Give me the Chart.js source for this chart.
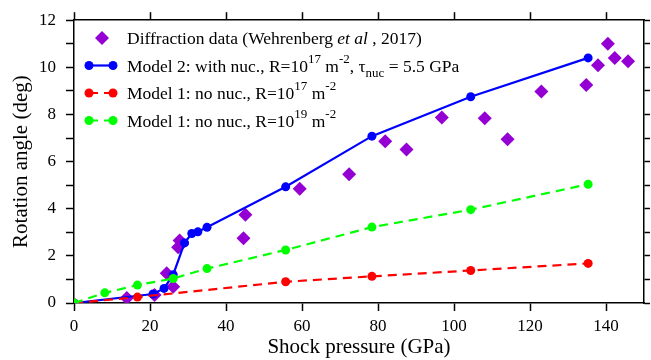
<!DOCTYPE html>
<html>
<head>
<meta charset="utf-8">
<script src="https://cdn.jsdelivr.net/npm/chart.js@4"></script>
<style>
  body { margin: 0; background: #fff; }
</style>
</head>
<body>
<canvas id="rotChart" width="651" height="360"></canvas>
<script>
// diffraction data (Wehrenberg et al, 2017)
const diffPressure = [13.9, 21.2, 24.4, 26.1, 27.4, 27.8, 44.6, 45.1, 59.4, 72.4, 81.9, 87.5, 96.8, 108.1, 114.1, 123.0, 134.8, 137.9, 140.5, 142.3, 145.8];
const diffAngle    = [0.21, 0.34, 1.26, 0.69, 2.37, 2.65, 2.75, 3.75, 4.85, 5.46, 6.86, 6.51, 7.87, 7.84, 6.95, 8.97, 9.25, 10.09, 11.0, 10.4, 10.26];

// model 2, with nucleation
const m2Pressure = [0, 20.8, 23.7, 26.1, 29.1, 31.0, 32.6, 35.0, 55.7, 78.4, 104.4, 135.3];
const m2Angle    = [0, 0.38, 0.62, 1.2, 2.55, 2.95, 3.02, 3.21, 4.93, 7.08, 8.75, 10.4];

// model 1, R=1e17
const m1aPressure = [0, 16.7, 55.7, 78.4, 104.4, 135.3];
const m1aAngle    = [0, 0.25, 0.9, 1.13, 1.38, 1.68];

// model 1, R=1e19
const m1bPressure = [0, 8.1, 16.7, 26.1, 35.0, 55.7, 78.4, 104.4, 135.3];
const m1bAngle    = [0, 0.43, 0.76, 1.04, 1.46, 2.25, 3.22, 3.96, 5.04];

const xTitle = 'Shock pressure (GPa)';
const yTitle = 'Rotation angle (deg)';

const serif = "'Liberation Serif', 'Times New Roman', serif";
const purple = '#9400D3', blue = '#0000FF', red = '#FF0000', green = '#00FF00';

function pts(xs, ys) { return xs.map((x, i) => ({ x: x, y: ys[i] })); }

// legend rows, drawn by hand because of the super/subscripts
const legendRows = [
  { kind: 'diamond', color: purple, segs: [['Diffraction data (Wehrenberg ', 'n'], ['et al', 'i'], [' , 2017)', 'n']] },
  { kind: 'line', color: blue, dash: [], segs: [['Model 2: with nuc., R=10', 'n'], ['17', 'sup'], [' m', 'n'], ['-2', 'sup'], [', \u03C4', 'n'], ['nuc', 'sub'], [' = 5.5 GPa', 'n']] },
  { kind: 'line', color: red, dash: [9, 6], segs: [['Model 1: no nuc., R=10', 'n'], ['17', 'sup'], [' m', 'n'], ['-2', 'sup']] },
  { kind: 'line', color: green, dash: [9, 6], segs: [['Model 1: no nuc., R=10', 'n'], ['19', 'sup'], [' m', 'n'], ['-2', 'sup']] }
];

const legendPlugin = {
  id: 'richLegend',
  afterDraw(chart) {
    const ctx = chart.ctx;
    const size = 17.5;
    ctx.save();
    legendRows.forEach((row, i) => {
      const yc = 38 + i * 27.5;
      if (row.kind === 'diamond') {
        ctx.fillStyle = row.color;
        ctx.beginPath();
        ctx.moveTo(102 - 7, yc); ctx.lineTo(102, yc - 7); ctx.lineTo(102 + 7, yc); ctx.lineTo(102, yc + 7);
        ctx.closePath(); ctx.fill();
      } else {
        ctx.strokeStyle = row.color;
        ctx.lineWidth = 2.2;
        ctx.setLineDash(row.dash);
        ctx.beginPath(); ctx.moveTo(89, yc); ctx.lineTo(113, yc); ctx.stroke();
        ctx.setLineDash([]);
        ctx.fillStyle = row.color;
        [89, 113].forEach(px => { ctx.beginPath(); ctx.arc(px, yc, 4.5, 0, Math.PI * 2); ctx.fill(); });
      }
      let x = 127;
      const base = yc + 6;
      ctx.fillStyle = '#000';
      ctx.textBaseline = 'alphabetic';
      ctx.textAlign = 'left';
      row.segs.forEach(([t, st]) => {
        let f = size + 'px ' + serif, dy = 0;
        if (st === 'i') f = 'italic ' + size + 'px ' + serif;
        if (st === 'sup') { f = Math.round(size * 0.72) + 'px ' + serif; dy = -size * 0.5; }
        if (st === 'sub') { f = Math.round(size * 0.72) + 'px ' + serif; dy = size * 0.3; }
        ctx.font = f;
        ctx.fillText(t, x, base + dy);
        x += ctx.measureText(t).width;
      });
    });
    ctx.restore();
  }
};

const axisBorder = { display: true, color: '#000', width: 1.5 };

new Chart(document.getElementById('rotChart'), {
  type: 'scatter',
  data: {
    datasets: [
      { label: 'Diffraction', data: pts(diffPressure, diffAngle), pointStyle: 'rectRot', pointRadius: 7,
        backgroundColor: purple, borderColor: purple, borderWidth: 0, order: 4 },
      { label: 'Model 2', data: pts(m2Pressure, m2Angle), showLine: true, borderColor: blue, backgroundColor: blue,
        borderWidth: 2.2, pointRadius: 4.5, pointBorderWidth: 0, order: 3 },
      { label: 'Model 1 1e17', data: pts(m1aPressure, m1aAngle), showLine: true, borderColor: red, backgroundColor: red,
        borderWidth: 2.2, borderDash: [9, 6], pointRadius: 4.5, pointBorderWidth: 0, order: 2 },
      { label: 'Model 1 1e19', data: pts(m1bPressure, m1bAngle), showLine: true, borderColor: green, backgroundColor: green,
        borderWidth: 2.2, borderDash: [9, 6], pointRadius: 4.5, pointBorderWidth: 0, order: 1 }
    ]
  },
  options: {
    responsive: false,
    animation: false,
    devicePixelRatio: 1,
    layout: { padding: 0 },
    plugins: { legend: { display: false }, tooltip: { enabled: false } },
    scales: {
      x: {
        type: 'linear', position: 'bottom', min: 0, max: 150,
        border: axisBorder,
        grid: { drawOnChartArea: false, tickLength: 8, color: '#000', tickWidth: 1.5 },
        ticks: { stepSize: 20, includeBounds: false, autoSkip: false, maxRotation: 0, color: '#000', padding: 5,
          font: { family: serif, size: 17 } },
        title: { display: true, text: xTitle, color: '#000', font: { family: serif, size: 21 }, padding: { top: 0, bottom: 0 } },
        afterFit: s => { s.height = 57; }
      },
      xTop: {
        type: 'linear', position: 'top', min: 0, max: 150,
        border: axisBorder,
        grid: { drawOnChartArea: false, tickLength: 8, color: '#000', tickWidth: 1.5 },
        ticks: { stepSize: 20, includeBounds: false, display: false },
        afterFit: s => { s.height = 18; }
      },
      y: {
        type: 'linear', position: 'left', min: 0, max: 12,
        border: axisBorder,
        grid: { drawOnChartArea: false, tickLength: 8, color: '#000', tickWidth: 1.5 },
        ticks: { stepSize: 1, autoSkip: false, color: '#000', padding: 10, font: { family: serif, size: 17 },
          callback: v => (v % 2 === 0 ? v : '') },
        title: { display: true, text: yTitle, color: '#000', font: { family: serif, size: 21 }, padding: { top: 9, bottom: 0 } },
        afterFit: s => { s.width = 74; }
      },
      yRight: {
        type: 'linear', position: 'right', min: 0, max: 12,
        border: axisBorder,
        grid: { drawOnChartArea: false, tickLength: 6, color: '#000', tickWidth: 1.5 },
        ticks: { stepSize: 1, display: false },
        afterFit: s => { s.width = 7; }
      }
    }
  },
  plugins: [legendPlugin]
});
</script>
</body>
</html>
